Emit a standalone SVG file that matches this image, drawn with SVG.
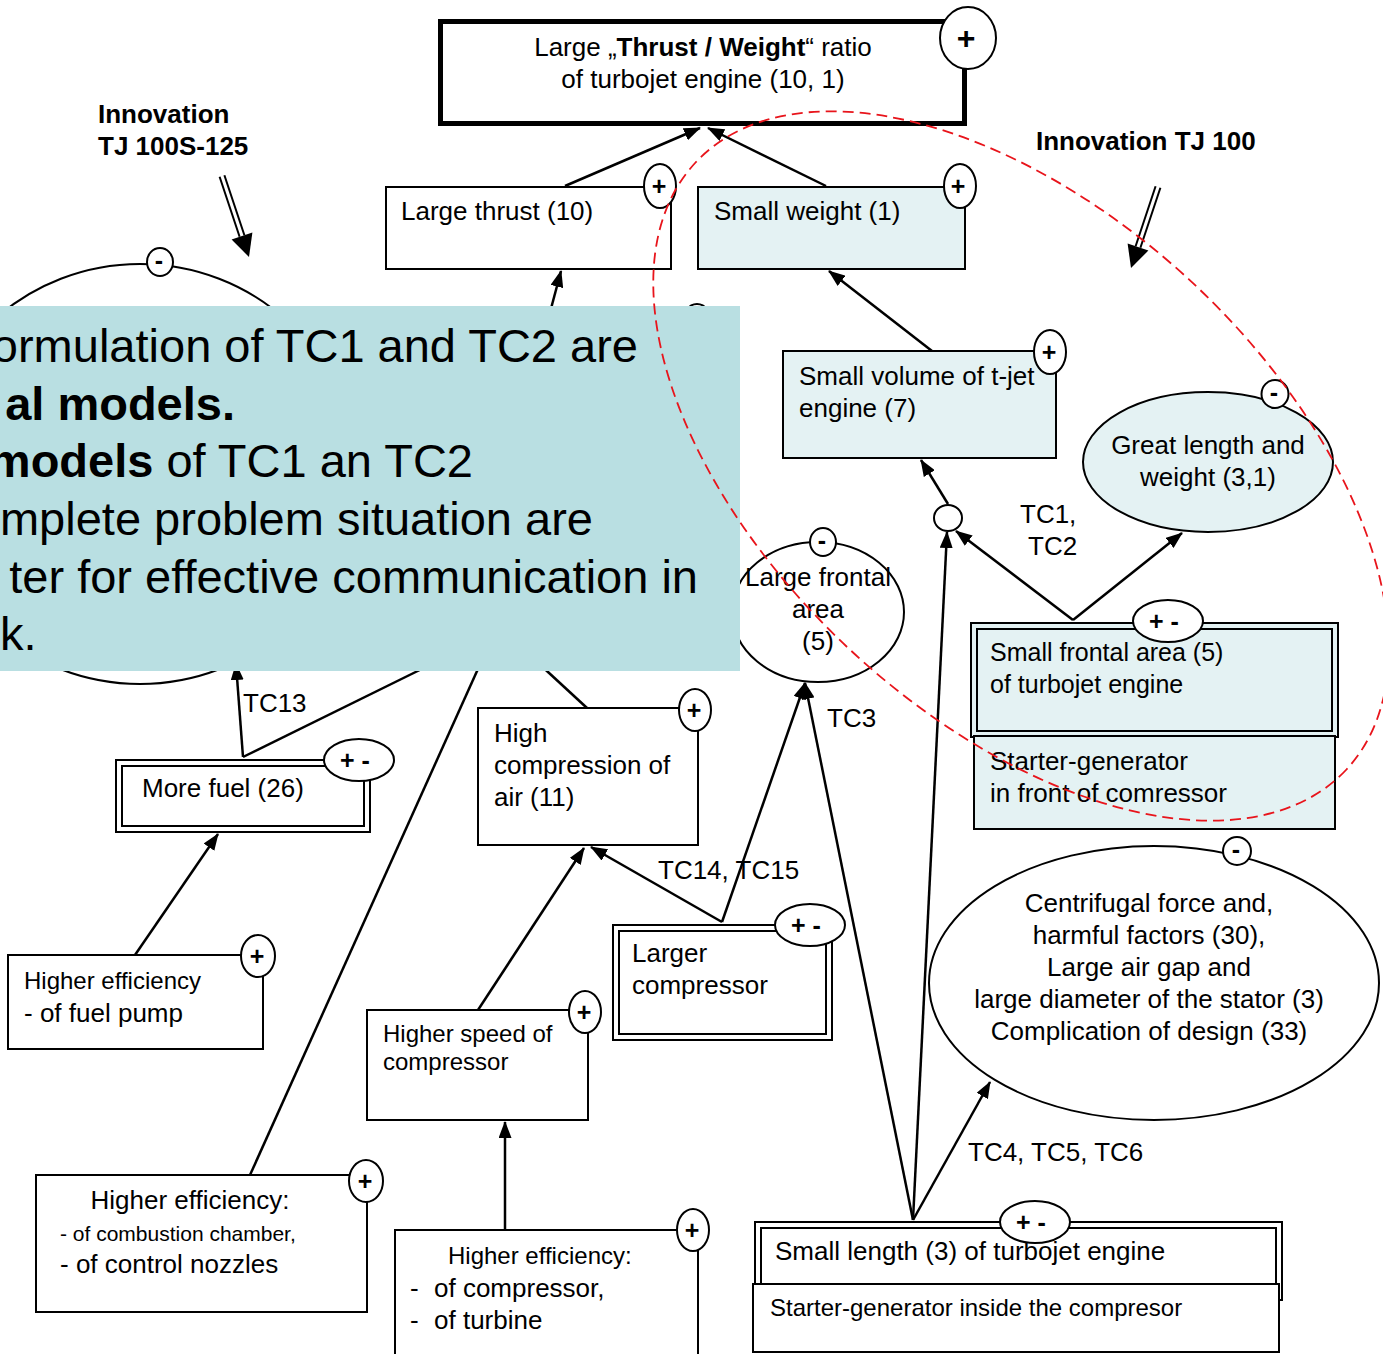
<svg xmlns="http://www.w3.org/2000/svg" width="1383" height="1354" viewBox="0 0 1383 1354">
  <defs>
    <style>
      text { font-family: "Liberation Sans", Arial, sans-serif; font-size: 26px; fill: #000; }
      .b { font-weight: bold; }
      .box { fill: #fff; stroke: #000; stroke-width: 2; }
      .tint { fill: #e4f2f3; stroke: #000; stroke-width: 2; }
      .badge { fill: #fff; stroke: #000; stroke-width: 2; }
      .sign { font-weight: bold; font-size: 25px; text-anchor: middle; }
      .con { fill: none; stroke: #000; stroke-width: 2.5; }
      .arr { marker-end: url(#ah); }
      .mid { text-anchor: middle; }
      .big { font-size: 47px; }
    </style>
    <marker id="ah" markerWidth="17" markerHeight="13" refX="16" refY="6.5" orient="auto" markerUnits="userSpaceOnUse">
      <path d="M0,0 L17,6.5 L0,13 z" fill="#000"/>
    </marker>
  </defs>

  <rect width="1383" height="1354" fill="#fff"/>

  <!-- connectors -->
  <g id="connectors">
    <path class="con arr" d="M565,186 L700,128"/>
    <path class="con arr" d="M826,186 L708,128"/>
    <path class="con arr" d="M540,350 L561,271"/>
    <path class="con arr" d="M932,351 L829,271"/>
    <path class="con arr" d="M948,504 L921,460"/>
    <path class="con arr" d="M1073,620 L956,531"/>
    <path class="con arr" d="M1073,620 L1182,533"/>
    <path class="con arr" d="M913,1220 L947,532"/>
    <path class="con arr" d="M913,1220 L805,683"/>
    <path class="con arr" d="M913,1220 L990,1082"/>
    <path class="con arr" d="M722,922 L805,683"/>
    <path class="con arr" d="M722,922 L591,847"/>
    <path class="con arr" d="M478,1010 L584,848"/>
    <path class="con arr" d="M505,1230 L505,1122"/>
    <path class="con arr" d="M243,757 L236,664"/>
    <path class="con" d="M243,757 L440,660"/>
    <path class="con" d="M250,1175 L482,660"/>
    <path class="con" d="M587,708 L535,660"/>
    <path class="con arr" d="M135,955 L218,834"/>
  </g>

  <!-- innovation markers -->
  <g id="innovation-100s">
    <text class="b" x="98" y="123">Innovation</text>
    <text class="b" x="98" y="155">TJ 100S-125</text>
    <path d="M219.6,176.8 L239.6,236.8 M224.4,175.2 L244.4,235.2" stroke="#000" stroke-width="2" fill="none"/>
    <path d="M252.4,232.5 L231.6,239.5 L249,257 z" fill="#000"/>
  </g>
  <g id="innovation-100">
    <text class="b" x="1036" y="150">Innovation TJ 100</text>
    <path d="M1155.6,186.2 L1135.6,246.2 M1160.4,187.8 L1140.4,247.8" stroke="#000" stroke-width="2" fill="none"/>
    <path d="M1148.4,250.5 L1127.6,243.5 L1131,268 z" fill="#000"/>
  </g>

  <!-- nodes -->
  <g id="n-ratio">
    <rect x="440.5" y="21.5" width="524" height="102" fill="#fff" stroke="#000" stroke-width="5"/>
    <text class="mid" x="703" y="56">Large „<tspan class="b">Thrust / Weight</tspan>“ ratio</text>
    <text class="mid" x="703" y="88">of turbojet engine (10, 1)</text>
    <ellipse class="badge" cx="968" cy="38" rx="28" ry="31"/>
    <text class="sign" x="966" y="49" style="font-size:32px">+</text>
  </g>

  <g id="n-thrust">
    <rect class="box" x="386" y="187" width="285" height="82"/>
    <text x="401" y="220">Large thrust (10)</text>
    <ellipse class="badge" cx="660" cy="186" rx="16" ry="22"/>
    <text class="sign" x="659" y="195">+</text>
  </g>

  <g id="n-weight">
    <rect class="tint" x="698" y="187" width="267" height="82"/>
    <text x="714" y="220">Small weight (1)</text>
    <ellipse class="badge" cx="960" cy="186" rx="16" ry="22"/>
    <text class="sign" x="958" y="195">+</text>
  </g>

  <g id="n-volume">
    <rect class="tint" x="783" y="351" width="273" height="107"/>
    <text x="799" y="385">Small volume of t-jet</text>
    <text x="799" y="417">engine (7)</text>
    <ellipse class="badge" cx="1050" cy="352" rx="16" ry="22"/>
    <text class="sign" x="1049" y="361">+</text>
  </g>

  <g id="n-junction">
    <ellipse class="badge" cx="948" cy="518" rx="14" ry="13"/>
  </g>

  <g id="n-great-length">
    <ellipse class="tint" cx="1208" cy="462" rx="125" ry="70"/>
    <text class="mid" x="1208" y="454">Great length and</text>
    <text class="mid" x="1208" y="486">weight (3,1)</text>
    <ellipse class="badge" cx="1275" cy="394" rx="13.5" ry="14"/>
    <text class="sign" x="1274" y="401">-</text>
  </g>

  <g id="n-large-frontal">
    <ellipse class="box" cx="818" cy="612" rx="86" ry="70"/>
    <text class="mid" x="818" y="586">Large frontal</text>
    <text class="mid" x="818" y="618">area</text>
    <text class="mid" x="818" y="650">(5)</text>
    <ellipse class="badge" cx="823" cy="542" rx="13" ry="14"/>
    <text class="sign" x="822" y="549">-</text>
  </g>

  <g id="n-small-frontal">
    <rect class="tint" x="971" y="623" width="367" height="114"/>
    <rect x="977" y="629" width="355" height="102" fill="none" stroke="#000" stroke-width="2"/>
    <text x="990" y="661" style="font-size:25px">Small frontal area (5)</text>
    <text x="990" y="693" style="font-size:25px">of turbojet engine</text>
    <ellipse class="badge" cx="1168" cy="621" rx="35" ry="21"/>
    <text class="sign" x="1164" y="630">+ -</text>
  </g>

  <g id="n-starter-front">
    <rect class="tint" x="974" y="736" width="361" height="93"/>
    <text x="990" y="770">Starter-generator</text>
    <text x="990" y="802">in front of comressor</text>
  </g>

  <g id="n-centrifugal">
    <ellipse class="box" cx="1154" cy="983" rx="225" ry="137"/>
    <text class="mid" x="1149" y="912">Centrifugal force and,</text>
    <text class="mid" x="1149" y="944">harmful factors (30),</text>
    <text class="mid" x="1149" y="976">Large air gap and</text>
    <text class="mid" x="1149" y="1008">large diameter of the stator (3)</text>
    <text class="mid" x="1149" y="1040">Complication of design (33)</text>
    <ellipse class="badge" cx="1237" cy="851" rx="14" ry="14"/>
    <text class="sign" x="1236" y="858">-</text>
  </g>

  <g id="n-small-length">
    <rect class="box" x="755" y="1222" width="527" height="78"/>
    <rect x="761" y="1228" width="515" height="66" fill="none" stroke="#000" stroke-width="2"/>
    <text x="775" y="1260">Small length (3) of turbojet engine</text>
    <ellipse class="badge" cx="1035" cy="1222" rx="35" ry="21"/>
    <text class="sign" x="1031" y="1231">+ -</text>
  </g>

  <g id="n-starter-inside">
    <rect class="box" x="753" y="1284" width="526" height="68"/>
    <text x="770" y="1316" style="font-size:24px">Starter-generator inside the compresor</text>
  </g>

  <g id="n-high-compression">
    <rect class="box" x="478" y="708" width="220" height="137"/>
    <text x="494" y="742">High</text>
    <text x="494" y="774">compression of</text>
    <text x="494" y="806">air (11)</text>
    <ellipse class="badge" cx="695" cy="710" rx="16" ry="21"/>
    <text class="sign" x="694" y="719">+</text>
  </g>

  <g id="n-larger-compressor">
    <rect class="box" x="613" y="925" width="219" height="115"/>
    <rect x="619" y="931" width="207" height="103" fill="none" stroke="#000" stroke-width="2"/>
    <text x="632" y="962">Larger</text>
    <text x="632" y="994">compressor</text>
    <ellipse class="badge" cx="810" cy="925" rx="35" ry="21"/>
    <text class="sign" x="806" y="934">+ -</text>
  </g>

  <g id="n-higher-speed">
    <rect class="box" x="367" y="1010" width="221" height="110"/>
    <text x="383" y="1042" style="font-size:24px">Higher speed of</text>
    <text x="383" y="1070" style="font-size:24px">compressor</text>
    <ellipse class="badge" cx="585" cy="1012" rx="16" ry="21"/>
    <text class="sign" x="584" y="1021">+</text>
  </g>

  <g id="n-eff-compressor">
    <path class="box" d="M698,1354 L698,1230 L395,1230 L395,1354"/>
    <text x="448" y="1264" style="font-size:24px">Higher efficiency:</text>
    <text x="410" y="1297">-</text><text x="434" y="1297">of compressor,</text>
    <text x="410" y="1329">-</text><text x="434" y="1329">of turbine</text>
    <ellipse class="badge" cx="693" cy="1230" rx="16" ry="21"/>
    <text class="sign" x="692" y="1239">+</text>
  </g>

  <g id="n-eff-combustion">
    <rect class="box" x="36" y="1175" width="331" height="137"/>
    <text class="mid" x="190" y="1209">Higher efficiency:</text>
    <text x="60" y="1241" style="font-size:21px">- of combustion chamber,</text>
    <text x="60" y="1273">- of control nozzles</text>
    <ellipse class="badge" cx="366" cy="1181" rx="17" ry="21"/>
    <text class="sign" x="365" y="1190">+</text>
  </g>

  <g id="n-more-fuel">
    <rect class="box" x="116" y="760" width="254" height="72"/>
    <rect x="122" y="766" width="242" height="60" fill="none" stroke="#000" stroke-width="2"/>
    <text x="142" y="797">More fuel (26)</text>
    <ellipse class="badge" cx="359" cy="760" rx="35" ry="21"/>
    <text class="sign" x="355" y="769">+ -</text>
  </g>

  <g id="n-fuel-pump">
    <rect class="box" x="8" y="955" width="255" height="94"/>
    <text x="24" y="989" style="font-size:24px">Higher efficiency</text>
    <text x="24" y="1022">- of fuel pump</text>
    <ellipse class="badge" cx="258" cy="956" rx="17" ry="21"/>
    <text class="sign" x="257" y="965">+</text>
  </g>

  <g id="n-left-ellipse">
    <ellipse class="box" cx="140" cy="474" rx="215" ry="210"/>
    <ellipse class="badge" cx="160" cy="262" rx="13" ry="14"/>
    <text class="sign" x="159" y="269">-</text>
  </g>

  <g id="n-hidden-badge">
    <ellipse class="badge" cx="697" cy="324" rx="15" ry="20"/>
  </g>

  <!-- edge labels -->
  <g id="labels">
    <text x="1020" y="523">TC1,</text>
    <text x="1028" y="555">TC2</text>
    <text x="243" y="712">TC13</text>
    <text x="827" y="727">TC3</text>
    <text x="658" y="879">TC14, TC15</text>
    <text x="968" y="1161">TC4, TC5, TC6</text>
  </g>

  <!-- callout panel -->
  <g id="callout">
    <rect x="0" y="306" width="740" height="365" fill="#b9dfe2"/>
    <text class="big" x="638" y="362" text-anchor="end">ormulation of TC1 and TC2 are</text>
    <text class="big b" x="235" y="420" text-anchor="end">al models.</text>
    <text class="big" x="473" y="477" text-anchor="end"><tspan class="b">models</tspan> of TC1 an TC2</text>
    <text class="big" x="593" y="535" text-anchor="end">mplete problem situation are</text>
    <text class="big" x="698" y="593" text-anchor="end">ter for effective communication in</text>
    <text class="big" x="0" y="650">k.</text>
  </g>

  <!-- boundary of the TJ 100 innovation -->
  <ellipse id="innovation-zone" cx="1021" cy="466" rx="445" ry="251" transform="rotate(43 1021 466)" fill="none" stroke="#e8141b" stroke-width="1.8" stroke-dasharray="11 6"/>
</svg>
